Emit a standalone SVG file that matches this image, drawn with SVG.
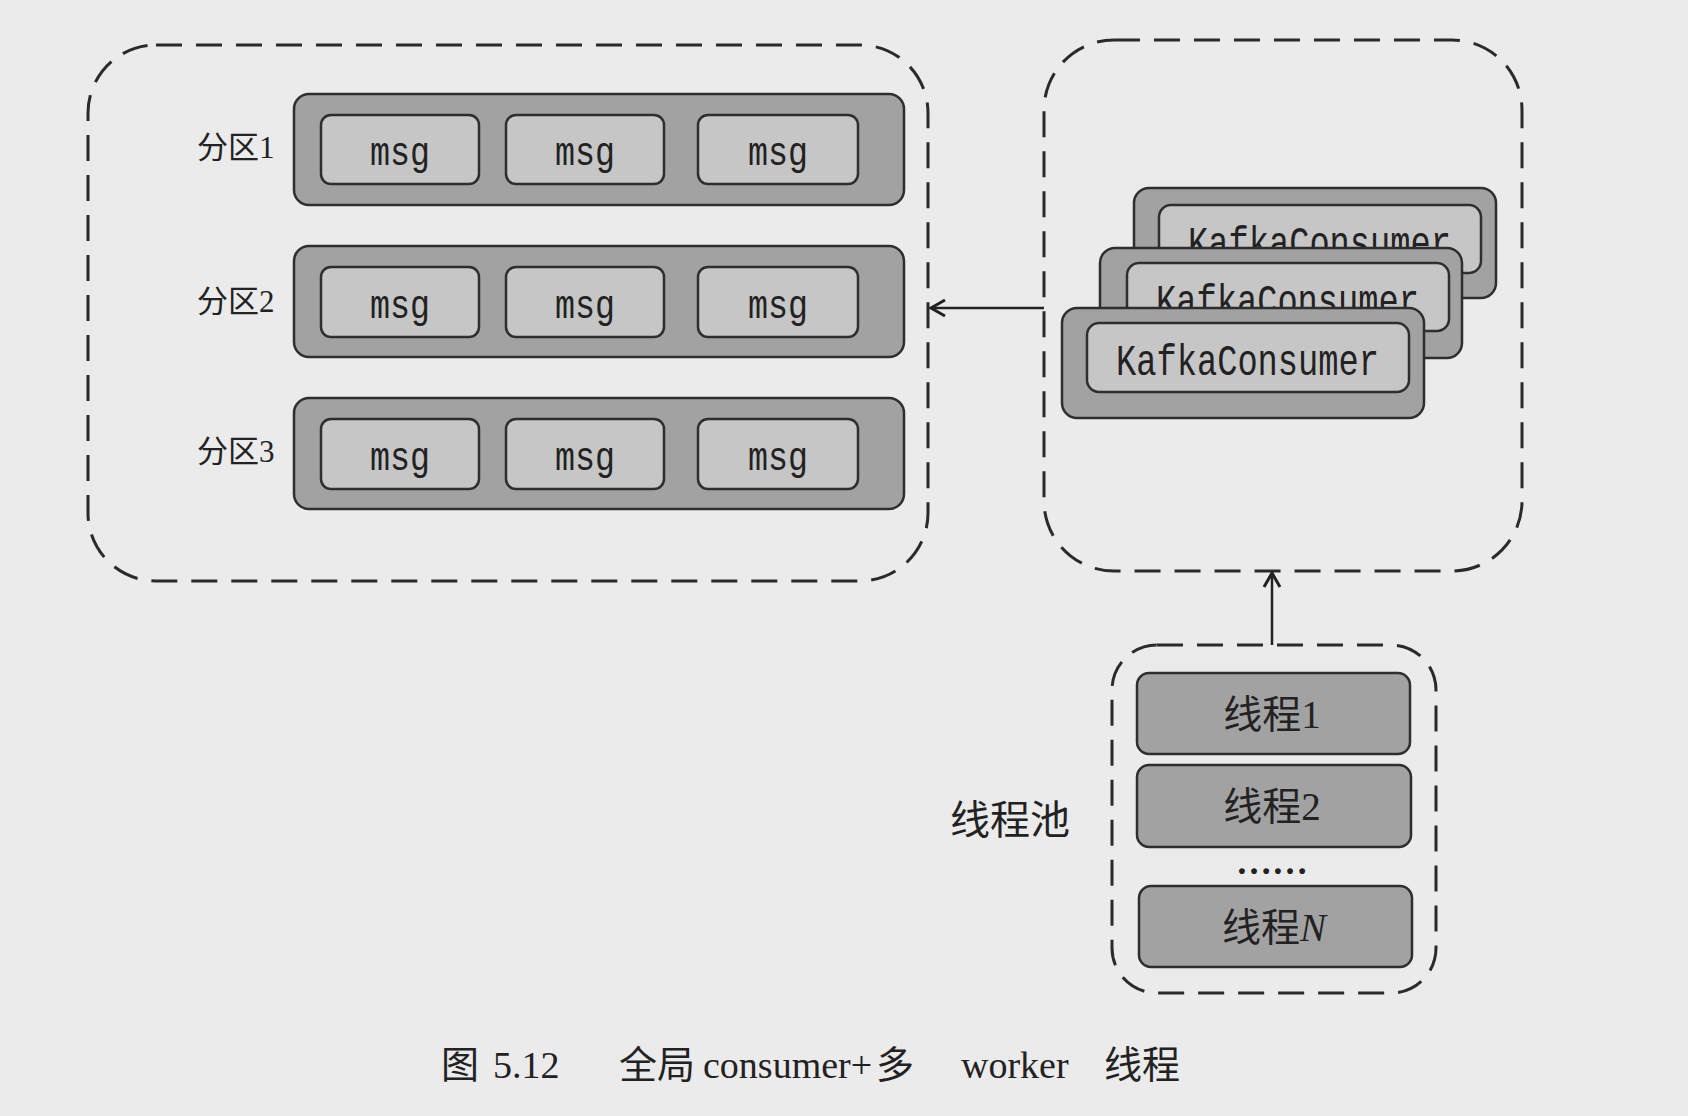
<svg xmlns="http://www.w3.org/2000/svg" width="1688" height="1116" viewBox="0 0 1688 1116">
<defs>
<style>
.bg{fill:#ebebeb}
.dash{fill:none;stroke:#2a2a2a;stroke-width:3;stroke-dasharray:26 14}
.bar{fill:#a2a2a2;stroke:#2e2e2e;stroke-width:2.5}
.msg{fill:#c6c6c6;stroke:#2e2e2e;stroke-width:2.5}
.mono{font-family:"Liberation Mono","DejaVu Sans Mono",monospace;fill:#222}
.cjk{font-family:"Liberation Serif","Noto Sans CJK SC",serif;fill:#222}
.conn{fill:none;stroke:#222;stroke-width:2.5}
</style>
<marker id="arr" markerUnits="userSpaceOnUse" markerWidth="20" markerHeight="20" refX="15" refY="10" orient="auto">
<path d="M1,2 L15,10 L1,18" fill="none" stroke="#222" stroke-width="3"/>
</marker>
</defs>
<rect class="bg" x="0" y="0" width="1688" height="1116"/>

<g id="partitions">
<rect class="dash" x="88" y="45" width="840" height="536" rx="68"/>
<g id="partition1">
<text class="cjk" x="197" y="158" font-size="31">分区1</text>
<rect class="bar" x="294" y="94" width="610" height="111" rx="15"/>
<rect class="msg" x="321" y="115" width="158" height="69" rx="10"/>
<rect class="msg" x="506" y="115" width="158" height="69" rx="10"/>
<rect class="msg" x="698" y="115" width="160" height="69" rx="10"/>
<text class="mono" x="370" y="165" font-size="40" textLength="60" lengthAdjust="spacingAndGlyphs">msg</text>
<text class="mono" x="555" y="165" font-size="40" textLength="60" lengthAdjust="spacingAndGlyphs">msg</text>
<text class="mono" x="748" y="165" font-size="40" textLength="60" lengthAdjust="spacingAndGlyphs">msg</text>
</g>
<g id="partition2">
<text class="cjk" x="197" y="312" font-size="31">分区2</text>
<rect class="bar" x="294" y="246" width="610" height="111" rx="15"/>
<rect class="msg" x="321" y="267" width="158" height="70" rx="10"/>
<rect class="msg" x="506" y="267" width="158" height="70" rx="10"/>
<rect class="msg" x="698" y="267" width="160" height="70" rx="10"/>
<text class="mono" x="370" y="318" font-size="40" textLength="60" lengthAdjust="spacingAndGlyphs">msg</text>
<text class="mono" x="555" y="318" font-size="40" textLength="60" lengthAdjust="spacingAndGlyphs">msg</text>
<text class="mono" x="748" y="318" font-size="40" textLength="60" lengthAdjust="spacingAndGlyphs">msg</text>
</g>
<g id="partition3">
<text class="cjk" x="197" y="462" font-size="31">分区3</text>
<rect class="bar" x="294" y="398" width="610" height="111" rx="15"/>
<rect class="msg" x="321" y="419" width="158" height="70" rx="10"/>
<rect class="msg" x="506" y="419" width="158" height="70" rx="10"/>
<rect class="msg" x="698" y="419" width="160" height="70" rx="10"/>
<text class="mono" x="370" y="470" font-size="40" textLength="60" lengthAdjust="spacingAndGlyphs">msg</text>
<text class="mono" x="555" y="470" font-size="40" textLength="60" lengthAdjust="spacingAndGlyphs">msg</text>
<text class="mono" x="748" y="470" font-size="40" textLength="60" lengthAdjust="spacingAndGlyphs">msg</text>
</g>
</g>

<g id="consumers">
<rect class="dash" x="1044" y="40" width="478" height="531" rx="70"/>
<g id="consumer3">
<rect class="bar" x="1134" y="188" width="362" height="110" rx="15"/>
<rect class="msg" x="1159" y="205" width="322" height="68" rx="12"/>
<text class="mono" x="1188" y="257" font-size="44" textLength="263" lengthAdjust="spacingAndGlyphs">KafkaConsumer</text>
</g>
<g id="consumer2">
<rect class="bar" x="1100" y="248" width="362" height="110" rx="15"/>
<rect class="msg" x="1127" y="263" width="322" height="68" rx="12"/>
<text class="mono" x="1156" y="315" font-size="44" textLength="263" lengthAdjust="spacingAndGlyphs">KafkaConsumer</text>
</g>
<g id="consumer1">
<rect class="bar" x="1062" y="308" width="362" height="110" rx="15"/>
<rect class="msg" x="1087" y="323" width="322" height="69" rx="12"/>
<text class="mono" x="1116" y="375" font-size="44" textLength="263" lengthAdjust="spacingAndGlyphs">KafkaConsumer</text>
</g>
</g>

<g id="threadpool">
<text class="cjk" x="950" y="834" font-size="40">线程池</text>
<rect class="dash" x="1112" y="645" width="324" height="348" rx="45"/>
<g id="thread1">
<rect class="bar" x="1137" y="673" width="273" height="81" rx="12"/>
<text class="cjk" x="1272" y="728" font-size="39" text-anchor="middle">线程1</text>
</g>
<g id="thread2">
<rect class="bar" x="1137" y="765" width="274" height="82" rx="12"/>
<text class="cjk" x="1272" y="820" font-size="39" text-anchor="middle">线程2</text>
</g>
<text class="cjk" x="1236" y="874" font-size="36" font-weight="bold">……</text>
<g id="threadN">
<rect class="bar" x="1139" y="886" width="273" height="81" rx="12"/>
<text class="cjk" x="1274" y="941" font-size="39" text-anchor="middle">线程<tspan font-style="italic">N</tspan></text>
</g>
</g>

<g id="connectors">
<line class="conn" x1="1044" y1="308" x2="931" y2="308" marker-end="url(#arr)"/>
<line class="conn" x1="1272" y1="645" x2="1272" y2="573" marker-end="url(#arr)"/>
</g>

<text class="cjk" font-size="38" y="1078"><tspan x="441">图</tspan><tspan x="493">5.12</tspan><tspan x="619">全局</tspan><tspan x="703">consumer+</tspan><tspan x="876">多</tspan><tspan x="961">worker</tspan><tspan x="1104">线程</tspan></text>
</svg>
